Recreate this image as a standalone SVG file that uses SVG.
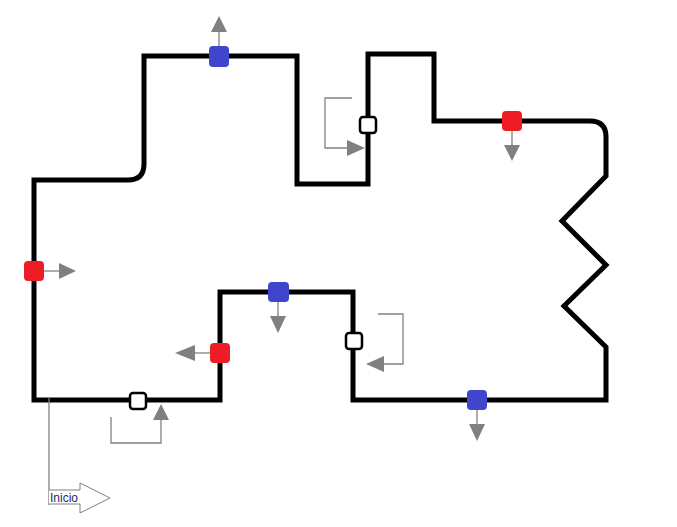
<svg xmlns="http://www.w3.org/2000/svg" width="677" height="527" viewBox="0 0 677 527">
<style>
.track{fill:none;stroke:#000;stroke-width:5;stroke-linejoin:miter}
.ln{fill:none;stroke:#808080;stroke-width:1.3}
.hd{fill:#808080}
.blue{fill:#4046cc}
.red{fill:#ee1c24}
.sq{fill:#fff;stroke:#000;stroke-width:2.5}
.lbl{font-family:"Liberation Sans",Arial,sans-serif;font-size:12px;fill:#1a2a66}
</style>
<g id="track">
<path class="track" d="M34,400 L34,180 L128,180 Q144,180 144,164 L144,56 L297,56 L297,184 L368,184 L368,54 L434,54 L434,121 L590,121 Q606,121 606,137 L606,176 L562,221 L606,265 L564,306 L606,347 L606,400 L353,400 L353,292 L220,292 L220,400 Z"/>
</g>
<g id="connectors">
<line class="ln" x1="219" y1="47" x2="219" y2="32"/><path class="hd" d="M219,16 L227,32 L211,32 Z"/>
<line class="ln" x1="512" y1="131" x2="512" y2="145"/><path class="hd" d="M512,161 L504,145 L520,145 Z"/>
<line class="ln" x1="44" y1="271" x2="59" y2="271"/><path class="hd" d="M76,271 L59,263 L59,279 Z"/>
<line class="ln" x1="278" y1="302" x2="278" y2="316"/><path class="hd" d="M278,333 L270,316 L286,316 Z"/>
<line class="ln" x1="210" y1="353" x2="195" y2="353"/><path class="hd" d="M175,353 L195,345 L195,361 Z"/>
<line class="ln" x1="477" y1="410" x2="477" y2="424"/><path class="hd" d="M477,441 L469,424 L485,424 Z"/>
<polyline class="ln" points="352,98 325,98 325,148 348,148"/><path class="hd" d="M365,148 L347,140 L347,156 Z"/>
<polyline class="ln" points="378,314 403,314 403,364 383,364"/><path class="hd" d="M366,364 L384,356 L384,372 Z"/>
<polyline class="ln" points="111,417 111,443 161,443 161,420"/><path class="hd" d="M161,404 L153,420 L169,420 Z"/>
<line class="ln" x1="49" y1="397" x2="49" y2="505"/>
</g>
<g id="m1"><rect class="blue" x="209" y="46" width="20" height="21" rx="4"/></g>
<g id="m2"><rect class="red" x="502" y="111" width="20" height="20" rx="4"/></g>
<g id="m3"><rect class="red" x="24" y="261" width="20" height="20" rx="4"/></g>
<g id="m4"><rect class="blue" x="268" y="282" width="21" height="20" rx="4"/></g>
<g id="m5"><rect class="red" x="210" y="343" width="20" height="20" rx="4"/></g>
<g id="m6"><rect class="blue" x="467" y="390" width="20" height="20" rx="4"/></g>
<g id="s1"><rect class="sq" x="360" y="117" width="16" height="16" rx="3"/></g>
<g id="s2"><rect class="sq" x="346" y="333" width="16" height="16" rx="3"/></g>
<g id="s3"><rect class="sq" x="130" y="393" width="16" height="16" rx="3"/></g>
<g id="inicio">
<path d="M49,490 L80,490 L80,483 L110,498 L80,513 L80,504 L49,504" fill="#fff" stroke="#808080" stroke-width="1"/>
<text class="lbl" x="50" y="502">Inicio</text>
</g>
</svg>
